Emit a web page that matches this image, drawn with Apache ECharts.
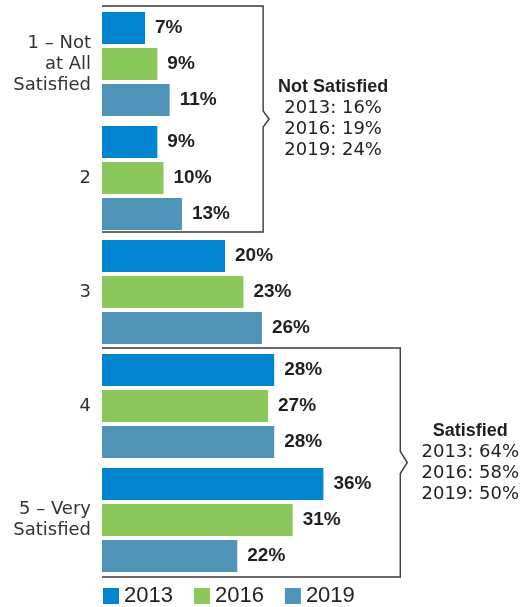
<!DOCTYPE html>
<html>
<head>
<meta charset="utf-8">
<script src="https://cdn.jsdelivr.net/npm/echarts@6/dist/echarts.min.js"></script>
<style>
  html, body { margin: 0; padding: 0; background: #fff; }
  #chart { width: 531px; height: 607px; }
</style>
</head>
<body>
<div id="chart"></div>
<script>
// Satisfaction ratings, share of respondents (%)
const categories = ['1 – Not\nat All\nSatisfied', '2', '3', '4', '5 – Very\nSatisfied'];
const years = ['2013', '2016', '2019'];
const values2013 = [7, 9, 20, 28, 36];
const values2016 = [9, 10, 23, 27, 31];
const values2019 = [11, 13, 26, 28, 22];
const colors = ['#0284cf', '#8bc75b', '#4f94b6'];

// Rating groups summarised by the brackets on the right
const notSatisfiedIdx = [0, 1];
const satisfiedIdx = [3, 4];

const allSeries = [values2013, values2016, values2019];
const sumOf = (arr, idx) => idx.reduce((s, i) => s + arr[i], 0);

const TEXT = '#231f20';
const chart = echarts.init(document.getElementById('chart'), null, { renderer: 'canvas' });

chart.setOption({
  animation: false,
  grid: { left: 102, top: 7, bottom: 30, width: 369 },
  xAxis: { type: 'value', min: 0, max: 60, show: false },
  yAxis: {
    type: 'category',
    data: categories,
    inverse: true,
    axisLine: { show: false },
    axisTick: { show: false },
    axisLabel: {
      margin: 11,
      align: 'right',
      fontFamily: 'DejaVu Sans',
      fontSize: 18,
      lineHeight: 21,
      color: '#333'
    }
  },
  legend: {
    left: 103,
    top: 584,
    padding: 0,
    itemWidth: 16,
    itemHeight: 16,
    itemGap: 21,
    itemTextGap: 5,
    icon: 'rect',
    textStyle: { fontFamily: 'Liberation Sans', fontSize: 22, lineHeight: 24, color: TEXT },
    data: years
  },
  series: years.map((y, k) => ({
    name: y,
    type: 'bar',
    data: allSeries[k],
    itemStyle: { color: colors[k] },
    barGap: '12.5%',
    barCategoryGap: '8.77%',
    label: {
      show: true,
      position: 'right',
      distance: 10,
      formatter: '{c}%',
      fontFamily: 'Liberation Sans',
      fontWeight: 'bold',
      fontSize: 19,
      color: TEXT
    }
  }))
});

// Brackets grouping the ratings, each with its summary text
function bracket(idx, reach, topPad, bottomPad, notch, title) {
  const c0 = chart.convertToPixel({ gridIndex: 0 }, [0, idx[0]]);
  const c1 = chart.convertToPixel({ gridIndex: 0 }, [0, idx[idx.length - 1]]);
  const band = chart.convertToPixel({ gridIndex: 0 }, [0, 1])[1] - chart.convertToPixel({ gridIndex: 0 }, [0, 0])[1];
  const x0 = c0[0];
  const xr = chart.convertToPixel({ gridIndex: 0 }, [reach, 0])[0];
  const top = c0[1] - band / 2 + topPad;
  const bottom = c1[1] + band / 2 + bottomPad;
  const mid = (top + bottom) / 2;
  const lines = years.map((y, k) => '{v|' + y + ': ' + sumOf(allSeries[k], idx) + '%}');
  return [
    {
      type: 'polyline',
      shape: {
        points: [
          [x0, top], [xr, top], [xr, mid - notch[1]], [xr + notch[0], mid],
          [xr, mid + notch[1]], [xr, bottom], [x0, bottom]
        ]
      },
      style: { stroke: '#3a3a3a', lineWidth: 1.4, fill: null }
    },
    {
      type: 'text',
      x: xr + 70,
      y: mid,
      style: {
        text: '{t|' + title + '}\n' + lines.join('\n'),
        align: 'center',
        verticalAlign: 'middle',
        rich: {
          t: { fontFamily: 'Liberation Sans', fontWeight: 'bold', fontSize: 18, lineHeight: 21, fill: TEXT, align: 'center' },
          v: { fontFamily: 'DejaVu Sans', fontSize: 18, lineHeight: 21, fill: TEXT, align: 'center' }
        }
      }
    }
  ];
}

chart.setOption({
  graphic: [
    ...bracket(notSatisfiedIdx, 26.2, -1, -3, [6, 8], 'Not Satisfied'),
    ...bracket(satisfiedIdx, 48.5, -1, 0, [7, 11], 'Satisfied')
  ]
});
</script>
</body>
</html>
